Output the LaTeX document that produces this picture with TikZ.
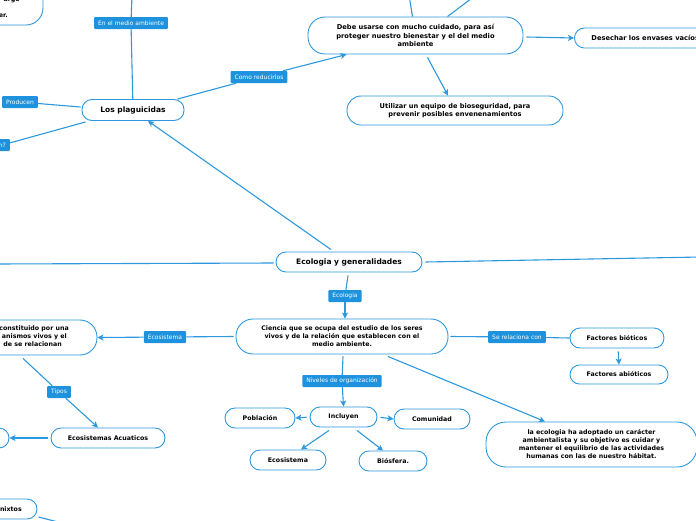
\documentclass[tikz,border=0pt]{standalone}
\usepackage{fontspec}
\setmainfont{DejaVu Sans}
\usetikzlibrary{arrows.meta,calc}
\definecolor{bblue}{RGB}{45,152,222}
\definecolor{lblue}{RGB}{30,146,220}
\begin{document}
\begin{tikzpicture}[x=1pt,y=-1pt,
 box/.style={draw=bblue,line width=0.9pt,fill=white,rounded corners=9pt,align=center,inner sep=0pt,font=\bfseries\fontsize{6.3}{8}\selectfont},
 bigbox/.style={box,font=\bfseries\fontsize{7.5}{9}\selectfont},
 lbl/.style={fill=lblue,text=white,rounded corners=1pt,inner xsep=4pt,inner ysep=0pt,minimum height=12pt,font=\fontsize{6}{7}\selectfont},
 con/.style={draw=bblue,line width=1.1pt},
 arr/.style={con,-{Stealth[length=6pt,width=6pt,inset=1.5pt]}},
 frag/.style={inner sep=0pt,font=\bfseries\fontsize{6.3}{8}\selectfont}]
\useasboundingbox (0,0) rectangle (696,520);
\clip (0,0) rectangle (696,520);

% ---------- nodes ----------
\node[box,minimum width=143pt,minimum height=45pt,rounded corners=17pt] (topl) at (-28.5,2.5) {};
\node[frag,anchor=east] (topla) at (20,0) {argo};
\node[frag,anchor=east] (toplb) at (8,16) {er.};

\node[lbl] (lblmedio) at (131,23) {En el medio ambiente};
\node[bigbox,minimum width=102pt,minimum height=21pt,rounded corners=10pt] (plag) at (133,110) {Los plaguicidas};
\node[lbl] (lblprod) at (20,102) {Producen};
\node[lbl,anchor=east] (lblq) at (10,145) {n?};
\node[lbl] (lblcomo) at (259,77) {Como reducirlos};

\node[box,minimum width=215pt,minimum height=37pt,rounded corners=17pt,font=\bfseries\fontsize{6.7}{8.2}\selectfont] (debe) at (415.5,35.5)
  {Debe usarse con mucho cuidado, para así\\proteger nuestro bienestar y el del medio\\ambiente};
\node[box,anchor=west,minimum height=20pt,inner xsep=17pt,rounded corners=10pt,font=\bfseries\fontsize{6.7}{8}\selectfont] (desechar) at (574,38)
  {Desechar los envases vacíos};
\node[box,minimum width=216pt,minimum height=29pt,rounded corners=14pt,font=\bfseries\fontsize{6.6}{8}\selectfont] (util) at (455,110.5)
  {Utilizar un equipo de bioseguridad, para\\prevenir posibles envenenamientos};

\node[bigbox,minimum width=146pt,minimum height=20pt,rounded corners=10pt] (eco) at (349,262) {Ecologia y generalidades};
\node[lbl] (lbleco) at (345,296) {Ecologia};
\node[box,minimum width=212pt,minimum height=35pt,rounded corners=17pt] (ciencia) at (342,336.5)
  {Ciencia que se ocupa del estudio de los seres\\vivos y de la relación que establecen con el\\medio ambiente.};

\node[lbl] (lblecosis) at (165,337) {Ecosistema};
\node[box,minimum width=200pt,minimum height=35pt,rounded corners=17pt] (leftnode) at (-3,337.5) {};
\node[frag,anchor=east] (lfa) at (69,328.5) {constituido por una};
\node[frag,anchor=east] (lfb) at (67,336.5) {anismos vivos y el};
\node[frag,anchor=east] (lfc) at (62,344.5) {de se relacionan};

\node[lbl] (lbltipos) at (59,392) {Tipos};
\node[box,minimum width=114pt,minimum height=20pt,rounded corners=10pt] (acuat) at (108,438) {Ecosistemas Acuaticos};
\node[box,minimum width=98pt,minimum height=20pt,rounded corners=10pt] (leftbox2) at (-40,438) {};

\node[box,minimum width=98pt,minimum height=20pt,rounded corners=10pt] (mixtos) at (-12,509) {};
\node[frag,anchor=east] (mixt) at (22,509) {nixtos};

\node[lbl] (lblse) at (517,337) {Se relaciona con};
\node[box,minimum width=94pt,minimum height=20pt,rounded corners=10pt] (biot) at (617,338) {Factores bióticos};
\node[box,minimum width=98pt,minimum height=19pt,rounded corners=9.5pt] (abiot) at (619,374.5) {Factores abióticos};

\node[box,minimum width=211pt,minimum height=45pt,rounded corners=20pt] (ecol2) at (591.5,444.5)
  {la ecologia ha adoptado un carácter\\ambientalista y su objetivo es cuidar y\\mantener el equilibrio de las actividades\\humanas con las de nuestro hábitat.};

\node[lbl] (lblniv) at (342,381) {Niveles de organización};
\node[box,minimum width=67pt,minimum height=20pt,rounded corners=10pt] (incl) at (343.5,417) {Incluyen};
\node[box,minimum width=70pt,minimum height=20pt,rounded corners=10pt] (pobl) at (260,418) {Población};
\node[box,minimum width=76pt,minimum height=20pt,rounded corners=10pt] (comu) at (432,419) {Comunidad};
\node[box,minimum width=76pt,minimum height=20pt,rounded corners=10pt] (ecosis) at (288,460) {Ecosistema};
\node[box,minimum width=68pt,minimum height=20pt,rounded corners=10pt] (bios) at (393,461) {Biósfera.};

% free ends
\coordinate (topA) at (132,-5);
\coordinate (topB) at (409,-5);
\coordinate (topC) at (476,-5);
\coordinate (leftE) at (-5,264);
\coordinate (rightE) at (701,257);
\coordinate (mixE) at (62,523);

% ---------- connectors ----------
\draw[con] (topA) -- (lblmedio);
\draw[con] (lblmedio) -- (plag);
\draw[con] ($(plag.west)+(-1,-3)$) -- (lblprod);
\draw[con] ($(plag.south west)+(4,1)$) -- (lblq);
\draw[con] ($(plag.north east)+(-7,0)$) -- (lblcomo);
\draw[arr] (lblcomo) -- ($(debe.south)+(-69,0)$);
\draw[con] ($(debe.north)+(-3,0)$) -- (topB);
\draw[con] ($(debe.north)+(32,0)$) -- (topC);
\draw[arr] ($(debe.east)+(3,1.5)$) -- (desechar.west);
\draw[arr] ($(debe.south)+(12,3)$) -- ($(util.north)+(-7,0)$);

\draw[arr] ($(eco.north)+(-18,-2)$) -- ($(plag.south)+(15,0)$);
\draw[con] ($(eco.west)+(-2,1)$) -- (leftE);
\draw[con] ($(eco.east)+(3,0)$) -- (rightE);
\draw[con] ($(eco.south)+(-1,3)$) -- (lbleco);
\draw[arr] (lbleco) -- ($(ciencia.north)+(3,0)$);

\draw[con] ($(ciencia.west)+(-2,0)$) -- (lblecosis);
\draw[arr] (lblecosis) -- ($(leftnode.east)+(0,0)$);
\draw[con] ($(leftnode.south)+(26,3)$) -- (lbltipos);
\draw[arr] (lbltipos) -- ($(acuat.north)+(-10,0)$);
\draw[arr,shorten <=3pt] (acuat.west) -- (leftbox2.east);
\draw[con] ($(mixtos.east)+(1,8)$) -- (mixE);

\draw[con] ($(ciencia.east)+(2,0)$) -- (lblse);
\draw[con] (lblse) -- (biot.west);
\draw[arr,shorten <=3pt] ($(biot.south)+(1,0)$) -- (abiot.north);
\draw[arr] ($(ciencia.south)+(46,2)$) -- ($(ecol2.north)+(-46.5,0)$);

\draw[con] ($(ciencia.south)+(1,2)$) -- (lblniv);
\draw[arr] (lblniv) -- (incl.north);
\draw[arr,shorten <=3pt] (incl.west) -- (pobl.east);
\draw[arr,shorten <=3pt] (incl.east) -- (comu.west);
\draw[arr] ($(incl.south)+(-14.5,3)$) -- ($(ecosis.north)+(13,0)$);
\draw[arr] ($(incl.south)+(13.5,3)$) -- ($(bios.north)+(-10,0)$);
\end{tikzpicture}
\end{document}
